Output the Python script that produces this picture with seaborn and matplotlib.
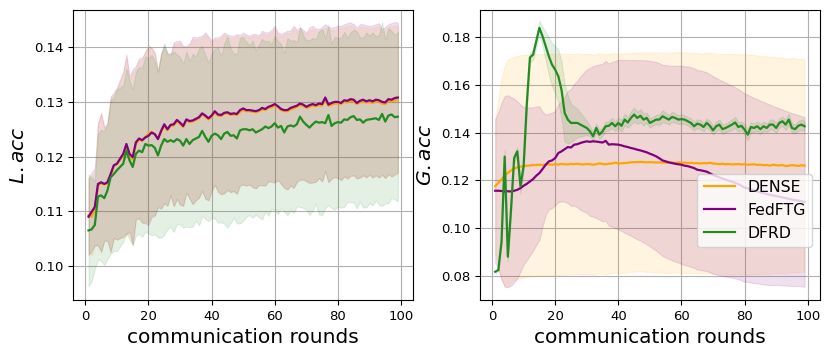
import numpy as np
import pandas as pd
import matplotlib
matplotlib.use("Agg")
import matplotlib.pyplot as plt
import seaborn as sns
from matplotlib.lines import Line2D

rounds = list(range(1, 100))
methods = ["DENSE", "FedFTG", "DFRD"]
colors = {"DENSE": "orange", "FedFTG": "purple", "DFRD": "forestgreen"}

# ---- Left panel: L. acc (values in units of 1e-4) ----
dense_L = [1093,1090,1105,1147,1151,1149,1151,1165,1182,1186,
           1194,1202,1218,1200,1195,1222,1231,1229,1236,1242,
           1245,1240,1233,1245,1256,1248,1256,1257,1264,1260,
           1254,1266,1263,1264,1267,1270,1277,1273,1268,1272,
           1281,1275,1274,1278,1279,1276,1277,1276,1282,1285,
           1283,1283,1282,1281,1283,1286,1285,1289,1290,1293,
           1290,1285,1283,1283,1286,1288,1291,1294,1293,1289,
           1291,1293,1292,1294,1293,1304,1293,1295,1297,1297,
           1296,1300,1299,1302,1301,1296,1299,1301,1299,1300,
           1298,1301,1300,1297,1296,1302,1301,1303,1303]
fedftg_L = [1090,1099,1108,1150,1153,1150,1153,1168,1184,1187,
            1196,1205,1223,1205,1199,1226,1233,1230,1235,1238,
            1244,1241,1232,1247,1259,1250,1258,1259,1267,1262,
            1256,1268,1265,1266,1269,1272,1279,1275,1270,1275,
            1283,1277,1276,1280,1281,1278,1279,1278,1285,1288,
            1285,1285,1284,1283,1285,1289,1287,1291,1293,1296,
            1292,1287,1285,1285,1289,1291,1293,1297,1295,1291,
            1294,1296,1294,1297,1296,1308,1295,1298,1300,1300,
            1298,1303,1302,1305,1304,1298,1302,1304,1301,1303,
            1301,1304,1303,1300,1299,1305,1304,1307,1308]
dfrd_L = [1065,1067,1075,1127,1129,1124,1138,1162,1168,1175,
          1181,1187,1211,1193,1181,1205,1211,1208,1223,1220,
          1221,1216,1202,1220,1232,1227,1230,1227,1232,1229,
          1220,1232,1223,1230,1233,1236,1247,1236,1227,1238,
          1242,1239,1232,1242,1245,1238,1239,1233,1248,1250,
          1250,1248,1250,1244,1247,1250,1255,1252,1255,1261,
          1253,1256,1244,1255,1257,1255,1259,1273,1264,1258,
          1253,1259,1264,1262,1263,1261,1276,1256,1261,1263,
          1262,1268,1267,1272,1274,1267,1268,1262,1267,1268,
          1269,1270,1267,1278,1264,1275,1277,1272,1273]
dense_L_std = [68,70,68,110,126,102,105,141,131,137,
               143,150,162,140,159,138,144,149,156,162,
               153,147,123,140,142,138,127,148,142,148,
               144,132,140,151,147,145,140,150,148,135,
               133,139,143,145,140,141,140,144,135,137,
               136,134,138,139,135,139,138,134,137,141,
               133,135,140,143,140,146,137,137,135,134,
               140,141,138,134,139,132,140,136,135,137,
               139,137,140,138,136,136,138,136,137,134,
               137,136,139,131,136,135,138,137,135]
fedftg_L_std = [70,72,70,112,127,104,107,142,133,139,
                145,151,164,142,160,140,146,151,157,163,
                155,149,125,142,144,140,129,150,144,150,
                146,134,142,153,149,147,142,152,150,137,
                135,141,145,147,142,143,142,146,137,139,
                138,136,140,141,137,141,140,136,139,143,
                135,137,142,145,142,148,139,139,137,136,
                142,143,140,136,141,134,142,138,137,139,
                141,139,142,140,138,138,140,138,139,136,
                139,138,141,133,138,137,140,139,137]
dfrd_L_std = [102,95,80,115,120,122,125,140,140,148,
              145,143,150,145,142,150,152,155,160,160,
              165,158,150,168,175,160,158,165,155,153,
              150,160,152,158,150,162,155,150,145,150,
              155,160,152,165,175,160,150,155,170,168,
              160,155,162,150,158,165,155,160,150,160,
              158,150,145,162,155,158,150,165,158,155,
              160,158,150,168,170,155,165,150,158,154,
              155,160,150,155,158,162,150,155,160,153,
              158,150,155,168,150,160,153,150,155]

# ---- Right panel: G. acc (values in units of 1e-4) ----
dense_G = [1176,1190,1205,1220,1232,1242,1250,1255,1258,1260,
           1262,1263,1264,1265,1266,1265,1267,1268,1266,1268,
           1267,1269,1268,1267,1269,1268,1270,1268,1267,1269,
           1268,1266,1268,1272,1269,1268,1270,1271,1275,1271,
           1272,1273,1274,1276,1277,1277,1278,1277,1276,1277,
           1276,1275,1276,1275,1275,1274,1275,1274,1276,1274,
           1275,1273,1274,1272,1273,1271,1273,1272,1274,1271,
           1270,1269,1270,1268,1269,1267,1268,1269,1267,1268,
           1266,1267,1268,1265,1266,1264,1265,1262,1266,1264,
           1263,1265,1260,1262,1264,1263,1261,1264,1262]
fedftg_G = [1157,1157,1156,1154,1155,1154,1157,1161,1168,1178,
            1186,1196,1206,1220,1231,1248,1266,1280,1284,1294,
            1315,1322,1331,1340,1338,1350,1352,1357,1361,1364,
            1362,1364,1363,1361,1359,1366,1350,1352,1351,1350,
            1347,1343,1340,1336,1333,1329,1326,1322,1318,1312,
            1307,1301,1293,1284,1280,1276,1273,1270,1268,1266,
            1262,1260,1256,1252,1245,1243,1240,1237,1230,1223,
            1218,1213,1208,1204,1199,1195,1190,1185,1178,1170,
            1167,1163,1158,1155,1150,1147,1143,1140,1137,1135,
            1132,1129,1126,1123,1120,1118,1116,1113,1110]
dfrd_G = [818,825,944,1300,881,1077,1294,1322,1175,1260,
          1520,1715,1727,1783,1839,1804,1762,1720,1685,1664,
          1636,1580,1483,1455,1441,1441,1441,1434,1427,1420,
          1406,1385,1420,1392,1406,1427,1429,1441,1427,1441,
          1429,1455,1443,1462,1476,1462,1471,1455,1462,1441,
          1448,1455,1455,1469,1462,1455,1466,1462,1455,1457,
          1455,1448,1441,1427,1438,1434,1424,1441,1429,1410,
          1427,1434,1415,1420,1427,1434,1443,1424,1429,1413,
          1392,1424,1420,1427,1415,1427,1420,1434,1434,1420,
          1441,1448,1434,1455,1420,1415,1429,1434,1427]
dense_G_std = [280,350,420,460,475,470,468,467,467,467,
               466,465,466,464,465,464,463,464,463,463,
               463,462,463,462,461,462,461,462,461,461,
               462,461,460,461,460,461,460,459,460,459,
               459,460,459,458,459,458,459,458,460,459,
               460,461,460,462,461,462,461,462,461,462,
               462,461,462,461,462,460,461,462,460,461,
               461,460,461,462,461,462,461,460,461,462,
               461,460,459,458,457,456,455,454,453,452,
               452,451,450,449,448,448,447,446,445]
fedftg_G_std = [300,330,370,400,402,395,385,370,350,330,
                320,310,300,290,280,240,210,200,200,197,
                205,210,220,235,245,255,265,280,290,300,
                310,315,320,325,330,335,340,345,350,355,
                358,362,365,368,372,375,378,382,385,388,
                392,395,398,400,403,405,408,410,412,415,
                416,417,418,418,418,418,417,416,415,414,
                412,410,408,406,404,402,400,398,396,394,
                392,390,388,386,384,382,380,378,375,372,
                370,368,366,364,362,360,358,357,355]
dfrd_G_std = [5,5,8,30,20,20,15,18,30,20,
              30,20,20,25,30,40,60,80,90,100,
              110,120,120,100,80,70,60,50,40,30,
              20,20,18,20,18,20,20,22,20,22,
              25,25,22,28,30,25,28,25,22,20,
              18,20,22,25,22,20,22,20,18,20,
              18,18,20,18,18,20,18,18,20,18,
              20,22,20,18,20,22,24,20,18,22,
              24,20,18,20,22,20,18,20,22,20,
              18,20,22,24,20,18,20,22,20]

left = {"DENSE": (dense_L, dense_L_std), "FedFTG": (fedftg_L, fedftg_L_std), "DFRD": (dfrd_L, dfrd_L_std)}
right = {"DENSE": (dense_G, dense_G_std), "FedFTG": (fedftg_G, fedftg_G_std), "DFRD": (dfrd_G, dfrd_G_std)}


def build(panel):
    frames = []
    for m in methods:
        mean, std = panel[m]
        frames.append(pd.DataFrame({"round": rounds,
                                    "acc": np.array(mean) / 1e4,
                                    "std": np.array(std) / 1e4,
                                    "method": m}))
    return pd.concat(frames, ignore_index=True)


df_L = build(left)
df_G = build(right)

fig = plt.figure(figsize=(8.3, 3.57), dpi=100)
axL = fig.add_axes([0.088, 0.160, 0.410, 0.812])
axR = fig.add_axes([0.578, 0.160, 0.410, 0.812])

for ax, df, ylab, ylim, yticks in [
        (axL, df_L, r"$L.acc$", (0.0938, 0.1468), [0.10, 0.11, 0.12, 0.13, 0.14]),
        (axR, df_G, r"$G.acc$", (0.0700, 0.1914), [0.08, 0.10, 0.12, 0.14, 0.16, 0.18])]:
    sns.lineplot(data=df, x="round", y="acc", hue="method", hue_order=methods,
                 palette=colors, linewidth=1.6, ax=ax, legend=False, zorder=3)
    for m in methods:
        d = df[df["method"] == m]
        ax.fill_between(d["round"], d["acc"] - d["std"], d["acc"] + d["std"],
                        color=colors[m], alpha=0.12, linewidth=0.8, zorder=1)
    ax.set_ylim(*ylim)
    ax.set_yticks(yticks)
    ax.set_xticks([0, 20, 40, 60, 80, 100])
    ax.grid(True, color="#b0b0b0", linewidth=0.8)
    ax.set_axisbelow(True)
    ax.set_xlabel("communication rounds", fontsize=14.5)
    ax.set_ylabel(ylab, fontsize=14.5)
    ax.tick_params(labelsize=9.5)
    for s in ax.spines.values():
        s.set_color("black")

handles = [Line2D([0], [0], color=colors[m], linewidth=1.6) for m in methods]
axR.legend(handles, methods, loc="lower right", bbox_to_anchor=(1.0, 0.156),
           fontsize=11.3, framealpha=0.8)

fig.savefig("out.png", dpi=100)
